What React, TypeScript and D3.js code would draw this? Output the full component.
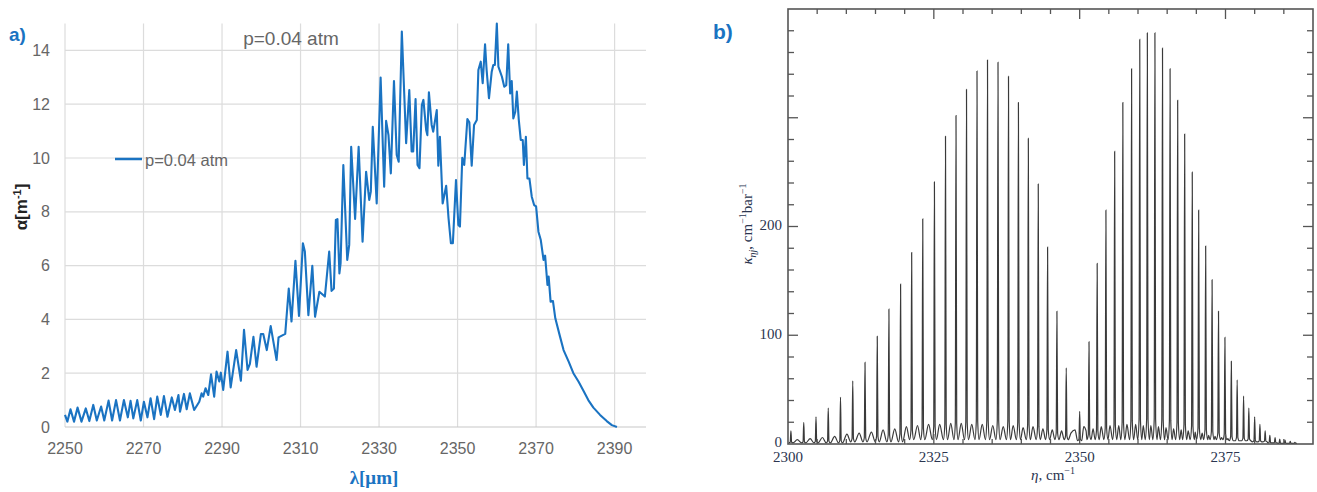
import React, { useEffect, useRef } from 'react';
import * as d3 from 'd3';

const W = 1317;
const H = 492;
const BLUE = '#1a73c2';

// panel a) measured absorption coefficient
const lambda = [
  2250.0, 2250.6, 2251.4, 2252.3, 2253.2, 2254.2, 2255.3, 2256.2, 2257.2, 2258.1, 2259.2, 2260.0,
  2261.1, 2262.0, 2263.0, 2264.0, 2265.0, 2266.0, 2266.7, 2267.4, 2268.4, 2269.3, 2270.1, 2271.0,
  2271.8, 2272.7, 2273.5, 2274.4, 2275.2, 2276.1, 2277.2, 2278.0, 2278.9, 2279.3, 2280.3, 2281.0,
  2281.8, 2282.9, 2284.2, 2284.8, 2285.2, 2285.8, 2286.5, 2287.2, 2288.0, 2288.6, 2289.3, 2289.7,
  2290.3, 2291.4, 2292.2, 2293.6, 2294.8, 2295.6, 2296.5, 2297.1, 2298.0, 2298.8, 2299.9, 2300.5,
  2301.4, 2302.4, 2303.3, 2303.9, 2304.4, 2306.1, 2307.0, 2307.7, 2308.7, 2309.6, 2310.6, 2311.1,
  2312.0, 2313.0, 2313.7, 2314.8, 2316.2, 2317.3, 2317.9, 2318.5, 2319.0, 2319.4, 2319.9, 2320.2,
  2320.9, 2321.9, 2322.4, 2322.9, 2323.9, 2324.8, 2325.8, 2326.7, 2327.5, 2327.9, 2328.4, 2329.4,
  2330.4, 2331.3, 2331.8, 2332.4, 2333.0, 2333.8, 2334.5, 2335.0, 2335.8, 2336.9, 2337.7, 2338.3,
  2338.7, 2339.3, 2339.8, 2340.3, 2340.9, 2341.3, 2342.0, 2342.3, 2342.7, 2343.4, 2343.8, 2344.7,
  2345.1, 2345.5, 2346.2, 2347.1, 2347.7, 2348.3, 2348.8, 2349.6, 2350.2, 2350.6, 2351.2, 2351.7,
  2352.5, 2353.0, 2353.6, 2354.2, 2354.9, 2355.3, 2355.9, 2356.4, 2357.0, 2357.4, 2358.0, 2358.7,
  2359.1, 2359.5, 2360.0, 2360.4, 2361.3, 2361.9, 2362.4, 2362.9, 2363.4, 2363.8, 2364.2, 2364.7,
  2365.1, 2365.6, 2366.1, 2366.6, 2366.9, 2367.4, 2367.8, 2368.3, 2368.9, 2369.5, 2370.0, 2370.6,
  2371.2, 2371.9, 2372.3, 2372.9, 2373.2, 2373.7, 2374.3, 2374.9, 2376.1, 2377.0, 2378.3, 2379.5,
  2380.8, 2382.1, 2383.3, 2384.6, 2386.3, 2388.0, 2389.3, 2390.6,
];
const alpha = [
  0.45, 0.2, 0.66, 0.2, 0.72, 0.2, 0.69, 0.22, 0.82, 0.24, 0.76, 0.24,
  0.98, 0.24, 1.0, 0.24, 1.0, 0.36, 0.97, 0.32, 1.0, 0.24, 0.94, 0.36,
  1.07, 0.29, 1.13, 0.45, 1.15, 0.38, 1.1, 0.63, 1.19, 0.57, 1.23, 0.66,
  1.25, 0.63, 0.94, 1.25, 1.13, 1.44, 1.19, 1.96, 1.13, 2.06, 1.69, 2.02,
  1.38, 2.8, 1.47, 2.86, 1.72, 3.61, 2.12, 2.35, 3.35, 2.24, 3.46, 3.46,
  2.86, 3.75, 2.99, 2.49, 3.33, 3.46, 5.15, 3.92, 6.18, 4.13, 6.83, 6.52,
  4.16, 5.99, 4.1, 5.03, 4.85, 6.52, 5.06, 5.15, 7.7, 7.73, 5.71, 6.08,
  9.74, 6.21, 6.77, 10.42, 7.73, 10.42, 6.89, 9.49, 8.44, 8.75, 11.16, 8.31,
  12.99, 8.93, 11.38, 10.85, 9.43, 12.86, 10.11, 9.86, 14.7, 10.55, 12.53, 10.24,
  10.24, 12.19, 9.74, 9.62, 11.97, 12.16, 11.04, 10.85, 12.44, 11.23, 10.98, 11.78,
  9.71, 10.79, 8.31, 8.97, 7.76, 6.83, 6.83, 9.18, 7.51, 7.45, 10.01, 9.74,
  11.45, 11.33, 9.71, 11.23, 11.41, 13.27, 13.58, 12.78, 14.23, 13.27, 12.22, 13.21,
  13.46, 13.46, 15.0, 13.4, 13.02, 12.65, 12.71, 14.23, 12.4, 12.86, 11.47, 11.72,
  12.47, 11.41, 10.67, 10.67, 9.74, 10.79, 9.24, 9.24, 8.56, 8.25, 8.2, 7.26,
  6.95, 6.21, 6.37, 5.28, 5.59, 4.66, 4.68, 4.04, 3.36, 2.86, 2.43, 2.0,
  1.69, 1.34, 1.0, 0.72, 0.45, 0.22, 0.07, 0.0,
];
const lambdaTicks = [2250, 2270, 2290, 2310, 2330, 2350, 2370, 2390];
const alphaTicks = [0, 2, 4, 6, 8, 10, 12, 14];

// panel b) computed line spectrum
const lineCenters = [
  2300.5, 2302.7, 2304.8, 2306.9, 2309.0, 2311.1, 2313.2, 2315.3, 2317.3, 2319.3, 2321.2, 2323.1, 2325.1,
  2327.0, 2328.8, 2330.6, 2332.4, 2334.2, 2336.0, 2337.8, 2339.5, 2341.2, 2342.9, 2344.5, 2346.1, 2347.7,
  2350.0,
  2351.6, 2353.0, 2354.5, 2356.0, 2357.4, 2358.9, 2360.3, 2361.6, 2362.9, 2364.2, 2365.5, 2366.8, 2368.0,
  2369.3, 2370.4, 2371.6, 2372.7, 2373.8, 2374.9, 2376.0, 2377.0, 2378.1, 2379.0, 2380.0, 2380.9, 2381.8,
  2382.6, 2383.5, 2384.3, 2385.2, 2386.1, 2386.9,
];
const lineHeights = [
  12, 20, 25, 33, 43, 58, 75, 99, 124, 147, 176, 207, 241,
  283, 302, 326, 343, 353, 351, 338, 314, 281, 239, 181, 122, 70,
  30,
  94, 166, 215, 269, 314, 345, 372, 378, 378, 364, 345, 316, 285,
  250, 215, 182, 151, 122, 98, 76, 59, 44, 33, 25, 18, 12,
  8, 6, 4.5, 3.7, 2.5, 1.5,
];
const lineFloor = [
  1, 1, 1, 1, 1, 2, 2, 2, 2, 2, 4, 4, 4,
  4, 4, 4, 4, 4, 4, 4, 4, 4, 4, 4, 4, 4,
  3,
  4, 4, 4, 4, 4, 4, 4, 4, 4, 4, 4, 4, 4,
  4, 4, 4, 4, 4, 4, 3, 3, 3, 3, 2, 2, 2,
  1, 1, 0.5, 0.5, 0.5, 0.5,
];
const hotCenters = [
  2301.6, 2303.8, 2305.9, 2308.0, 2310.1, 2312.2, 2314.3, 2316.3, 2318.3, 2320.3, 2322.2, 2324.1, 2326.0,
  2327.9, 2329.7, 2331.5, 2333.3, 2335.1, 2336.9, 2338.6, 2340.3, 2342.0, 2343.7, 2345.3, 2346.9,
  2348.5, 2349.2, 2350.7, 2351.1,
  2352.3, 2353.7, 2355.2, 2356.7, 2358.1, 2359.6, 2360.9, 2362.2, 2363.5, 2364.8, 2366.1, 2367.4,
  2368.6, 2369.8, 2371.0, 2372.1, 2373.2, 2374.3, 2375.4,
];
const hotHeights = [
  4, 5, 6, 7, 9, 10, 11, 13, 14, 16, 17, 18, 18,
  19, 19, 18, 18, 17, 16, 17, 15, 16, 14, 13, 12,
  10, 13, 16, 12,
  14, 16, 17, 17, 18, 18, 17, 17, 16, 15, 14, 13,
  12, 11, 10, 8, 7, 6, 5,
];
const etaLabels = [2300, 2325, 2350, 2375];
const kappaLabels = [0, 100, 200];

export default function App() {
  const ref = useRef<SVGSVGElement>(null);

  useEffect(() => {
    const svg = d3.select(ref.current);
    svg.selectAll('*').remove();

    // ---------- panel a ----------
    const xa = d3.scaleLinear().domain([2250, 2398]).range([65, 646]);
    const ya = d3.scaleLinear().domain([0, 15]).range([427, 23.5]);
    const a = svg.append('g').style('font-family', '"Liberation Sans", Arial, sans-serif');

    a.selectAll('.vg').data(lambdaTicks).enter().append('line')
      .attr('x1', d => xa(d)).attr('x2', d => xa(d))
      .attr('y1', ya(15)).attr('y2', ya(0))
      .attr('stroke', '#dcdcdc').attr('stroke-width', 1.2);
    a.selectAll('.hg').data(alphaTicks).enter().append('line')
      .attr('x1', xa(2250)).attr('x2', xa(2398))
      .attr('y1', d => ya(d)).attr('y2', d => ya(d))
      .attr('stroke', d => d === 0 ? '#c8c8c8' : '#dcdcdc').attr('stroke-width', 1.2);

    a.selectAll('.yl').data(alphaTicks).enter().append('text')
      .attr('x', 50).attr('y', d => ya(d)).attr('dy', '0.35em')
      .attr('text-anchor', 'end').attr('font-size', 16).attr('fill', '#666')
      .text(d => d);
    a.selectAll('.xl').data(lambdaTicks).enter().append('text')
      .attr('x', d => xa(d)).attr('y', 448).attr('dy', '0.35em')
      .attr('text-anchor', 'middle').attr('font-size', 16).attr('fill', '#666')
      .text(d => d);

    const pts = lambda.map((l, i) => [l, alpha[i]] as [number, number]);
    a.append('path').datum(pts)
      .attr('d', d3.line<[number, number]>().x(d => xa(d[0])).y(d => ya(d[1])))
      .attr('fill', 'none').attr('stroke', BLUE).attr('stroke-width', 2.1)
      .attr('stroke-linejoin', 'round');

    a.append('line').attr('x1', 115).attr('x2', 142).attr('y1', 159).attr('y2', 159)
      .attr('stroke', BLUE).attr('stroke-width', 2.5);
    a.append('text').attr('x', 145).attr('y', 160).attr('dy', '0.35em')
      .attr('font-size', 16.5).attr('fill', '#666').text('p=0.04 atm');
    a.append('text').attr('x', 291).attr('y', 38).attr('dy', '0.35em')
      .attr('text-anchor', 'middle').attr('font-size', 19).attr('fill', '#666').text('p=0.04 atm');

    a.append('text').attr('x', 9).attr('y', 41)
      .attr('font-size', 19).attr('font-weight', 'bold').attr('fill', BLUE).text('a)');

    const at = a.append('text').attr('transform', 'translate(27,207) rotate(-90)')
      .attr('text-anchor', 'middle').attr('font-size', 17).attr('font-weight', 'bold').attr('fill', '#222');
    at.append('tspan').text('α[m');
    at.append('tspan').attr('dy', -6).attr('font-size', 11).text('-1');
    at.append('tspan').attr('dy', 6).text(']');

    a.append('text').attr('x', 374).attr('y', 484).attr('text-anchor', 'middle')
      .attr('font-family', '"Liberation Serif", serif').attr('font-size', 19)
      .attr('font-weight', 'bold').attr('fill', BLUE).text('λ[μm]');

    // ---------- panel b ----------
    const xb = d3.scaleLinear().domain([2300, 2390]).range([788, 1313]);
    const yb = d3.scaleLinear().domain([0, 400]).range([444, 9]);
    const b = svg.append('g').style('font-family', '"Liberation Serif", "Times New Roman", serif');

    b.append('clipPath').attr('id', 'clipb').append('rect')
      .attr('x', xb(2300)).attr('y', yb(400)).attr('width', xb(2390) - xb(2300)).attr('height', yb(0) - yb(400));

    const spec: [number, number][] = [];
    lineCenters.forEach((c, i) => {
      const h = lineHeights[i];
      const f = lineFloor[i];
      spec.push([c - 0.35, f], [c - 0.12, f + 0.05 * h], [c, h], [c + 0.12, f + 0.05 * h], [c + 0.35, f]);
    });
    hotCenters.forEach((c, i) => spec.push([c, hotHeights[i]]));
    spec.sort((p, q) => p[0] - q[0]);

    b.append('path').datum(spec).attr('clip-path', 'url(#clipb)')
      .attr('d', d3.line<[number, number]>().x(d => xb(d[0])).y(d => yb(d[1])).curve(d3.curveMonotoneX))
      .attr('fill', 'none').attr('stroke', '#3a3a3a').attr('stroke-width', 1.2);

    const xt = d3.range(2305, 2390, 5);
    const yt = d3.range(20, 400, 20);
    const tick = b.append('g').attr('stroke', '#555').attr('stroke-width', 1.3);
    xt.forEach(v => {
      const len = v % 25 === 0 ? 10 : 5;
      tick.append('line').attr('x1', xb(v)).attr('x2', xb(v)).attr('y1', yb(400)).attr('y2', yb(400) + len);
      tick.append('line').attr('x1', xb(v)).attr('x2', xb(v)).attr('y1', yb(0)).attr('y2', yb(0) - len);
    });
    yt.forEach(v => {
      const len = v % 100 === 0 ? 10 : 6;
      tick.append('line').attr('x1', xb(2300)).attr('x2', xb(2300) + len).attr('y1', yb(v)).attr('y2', yb(v));
      tick.append('line').attr('x1', xb(2390)).attr('x2', xb(2390) - len).attr('y1', yb(v)).attr('y2', yb(v));
    });
    b.append('rect').attr('x', xb(2300)).attr('y', yb(400))
      .attr('width', xb(2390) - xb(2300)).attr('height', yb(0) - yb(400))
      .attr('fill', 'none').attr('stroke', '#555').attr('stroke-width', 1.6);

    b.selectAll('.kl').data(kappaLabels).enter().append('text')
      .attr('x', 782).attr('y', d => yb(d) - 2).attr('dy', '0.35em')
      .attr('text-anchor', 'end').attr('font-size', 15).attr('fill', '#2b3550').text(d => d);
    b.selectAll('.el').data(etaLabels).enter().append('text')
      .attr('x', d => xb(d)).attr('y', 462)
      .attr('text-anchor', 'middle').attr('font-size', 15).attr('fill', '#2b3550').text(d => d);

    const et = b.append('text').attr('x', 1053).attr('y', 480).attr('text-anchor', 'middle')
      .attr('font-size', 15).attr('fill', '#2b3550');
    et.append('tspan').attr('font-style', 'italic').text('η');
    et.append('tspan').text(', cm');
    et.append('tspan').attr('dy', -6).attr('font-size', 10).text('−1');

    const kt = b.append('text').attr('transform', 'translate(752,224) rotate(-90)')
      .attr('text-anchor', 'middle').attr('font-size', 15).attr('fill', '#2b3550');
    kt.append('tspan').attr('font-style', 'italic').text('κ');
    kt.append('tspan').attr('dy', 4).attr('font-size', 10).attr('font-style', 'italic').text('ηj');
    kt.append('tspan').attr('dy', -4).text(', cm');
    kt.append('tspan').attr('dy', -6).attr('font-size', 10).text('−1');
    kt.append('tspan').attr('dy', 6).text('bar');
    kt.append('tspan').attr('dy', -6).attr('font-size', 10).text('−1');

    svg.append('text').attr('x', 713).attr('y', 39)
      .attr('font-family', '"Liberation Sans", Arial, sans-serif')
      .attr('font-size', 21).attr('font-weight', 'bold').attr('fill', BLUE).text('b)');
  }, []);

  return (
    <svg ref={ref} width={W} height={H}
      style={{ position: 'absolute', left: 0, top: 0, background: '#fff' }} />
  );
}
